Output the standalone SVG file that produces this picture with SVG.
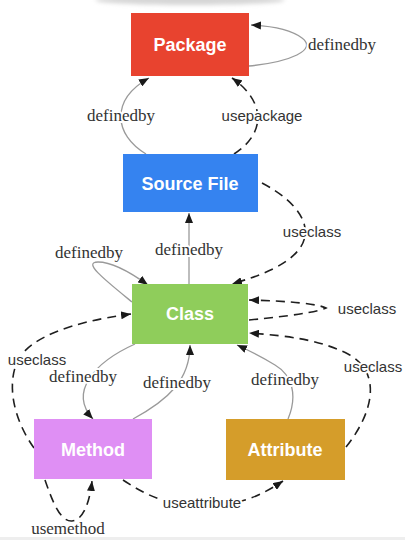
<svg xmlns="http://www.w3.org/2000/svg" width="405" height="540" viewBox="0 0 405 540">
  <defs>
    <marker id="arrow" viewBox="0 0 10 8" refX="10" refY="4" markerWidth="10" markerHeight="8" markerUnits="userSpaceOnUse" orient="auto">
      <path d="M0,0 L10,4 L0,8 Z" fill="#1a1a1a"/>
    </marker>
    <filter id="soft" x="-20%" y="-200%" width="140%" height="500%">
      <feGaussianBlur stdDeviation="2"/>
    </filter>
    <style>
      .node rect { stroke: none; }
      .node text { font-family: "Liberation Sans", Arial, sans-serif; font-weight: bold; font-size: 18px; fill: #ffffff; text-anchor: middle; }
      .solid { fill: none; stroke: #9a9a9a; stroke-width: 1.3; marker-end: url(#arrow); }
      .dash { fill: none; stroke: #1f1f1f; stroke-width: 1.6; stroke-dasharray: 9 6; marker-end: url(#arrow); }
      .lbl { fill: #333333; text-anchor: middle; stroke: #ffffff; stroke-width: 4; stroke-linejoin: round; paint-order: stroke; }
      .serif { font-family: "Liberation Serif", "Times New Roman", serif; font-size: 17px; }
      .sans { font-family: "Liberation Sans", Arial, sans-serif; font-size: 15px; }
    </style>
  </defs>

  <rect width="405" height="540" fill="#ffffff"/>
  <!-- faint header band and bottom rule -->
  <ellipse cx="190" cy="0" rx="95" ry="5" fill="#d6d6d6" filter="url(#soft)"/>
  <rect x="0" y="537" width="405" height="3" fill="#eeeeee"/>

  <g id="edges">
    <!-- Package self loop -->
    <path class="solid" d="M249,66 C290,62 318,50 302,38 C290,29 270,26 251,25"/>
    <!-- Source File -> Package -->
    <path class="solid" d="M146,154 C114,135 110,100 149,78"/>
    <path class="dash" d="M234,154 C268,132 264,100 232,78"/>
    <!-- Source File -> Class -->
    <path class="dash" d="M262,183 C300,203 314,228 300,248 C288,265 262,275 232,284"/>
    <!-- Class -> Source File -->
    <path class="solid" d="M189,284 L189,213"/>
    <!-- Class self loop definedby -->
    <path class="solid" d="M132,302 C105,280 82,262 98,262 C112,262 130,272 148,285"/>
    <!-- Class self loop useclass -->
    <path class="dash" d="M249,320 C290,316 318,312 326,308 C318,304 290,301 249,300"/>
    <!-- Method -> Class useclass -->
    <path class="dash" d="M34,448 C14,420 6,385 18,360 C30,338 70,322 131,314"/>
    <!-- Attribute -> Class useclass -->
    <path class="dash" d="M346,447 C374,412 382,372 348,354 C320,340 290,336 249,333"/>
    <!-- Class -> Method definedby -->
    <path class="solid" d="M135,344 C95,362 68,392 93,419"/>
    <!-- Method -> Class definedby -->
    <path class="solid" d="M133,419 C168,400 190,380 190,345"/>
    <!-- Attribute -> Class definedby -->
    <path class="solid" d="M288,419 C298,395 292,375 275,365 C262,357 250,351 237,345"/>
    <!-- Method self loop usemethod -->
    <path class="dash" d="M45,480 C52,500 60,522 72,521 C84,520 90,500 92,481"/>
    <!-- Method -> Attribute useattribute -->
    <path class="dash" d="M123,480 C150,498 172,506 202,506 C240,506 262,495 283,481"/>
  </g>

  <g id="edge-labels">
    <text class="lbl serif" x="342" y="50">definedby</text>
    <text class="lbl serif" x="121" y="121">definedby</text>
    <text class="lbl sans" x="262" y="121">usepackage</text>
    <text class="lbl sans" x="312" y="237">useclass</text>
    <text class="lbl serif" x="189" y="255">definedby</text>
    <text class="lbl serif" x="89" y="258">definedby</text>
    <text class="lbl sans" x="367" y="314">useclass</text>
    <text class="lbl sans" x="37" y="365">useclass</text>
    <text class="lbl sans" x="373" y="372">useclass</text>
    <text class="lbl serif" x="83" y="382">definedby</text>
    <text class="lbl serif" x="177" y="388">definedby</text>
    <text class="lbl serif" x="285" y="385">definedby</text>
    <text class="lbl sans" x="202" y="508">useattribute</text>
    <text class="lbl serif" x="68" y="534">usemethod</text>
  </g>

  <g id="package" class="node">
    <rect x="131" y="13" width="118" height="63" fill="#e8432f"/>
    <text x="190" y="51">Package</text>
  </g>
  <g id="source-file" class="node">
    <rect x="123" y="154" width="135" height="58" fill="#3583f0"/>
    <text x="190" y="190">Source File</text>
  </g>
  <g id="class" class="node">
    <rect x="132" y="284" width="116" height="60" fill="#8fcd5b"/>
    <text x="190" y="320">Class</text>
  </g>
  <g id="method" class="node">
    <rect x="34" y="419" width="118" height="60" fill="#df8ff4"/>
    <text x="93" y="456">Method</text>
  </g>
  <g id="attribute" class="node">
    <rect x="226" y="419" width="119" height="61" fill="#d59d2a"/>
    <text x="285" y="456">Attribute</text>
  </g>
</svg>
